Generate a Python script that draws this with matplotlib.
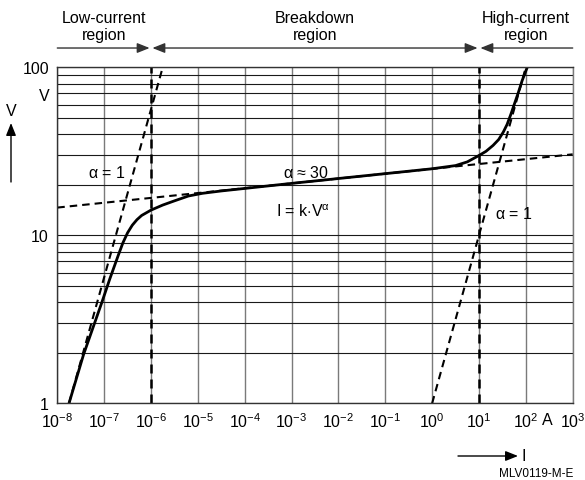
import numpy as np
import matplotlib
matplotlib.use("Agg")
from matplotlib import pyplot as plt
from matplotlib import ticker
from matplotlib.patches import FancyArrowPatch

plt.rcParams['font.family'] = ['Liberation Sans', 'DejaVu Sans']
plt.rcParams['mathtext.fontset'] = 'custom'
plt.rcParams['mathtext.rm'] = 'Liberation Sans'
plt.rcParams['mathtext.it'] = 'Liberation Sans:italic'
plt.rcParams['mathtext.default'] = 'rm'

# V-I characteristic (log10 of current in A, log10 of voltage in V)
curve_logi = [-7.75, -7.44, -7.05, -6.88, -6.70, -6.60, -6.50, -6.40, -6.30, -6.20, -6.00,
              -5.75, -5.50, -5.20, -4.90, -4.50, -4.00, -3.00, -2.00, -1.00, 0.00, 0.50,
              0.75, 1.00, 1.15, 1.30, 1.42, 1.52, 1.60, 1.68, 1.76, 1.84, 1.92, 2.03]
curve_logv = [0.00, 0.29, 0.60, 0.74, 0.88, 0.955, 1.015, 1.06, 1.093, 1.118, 1.150,
              1.18, 1.205, 1.234, 1.250, 1.264, 1.279, 1.309, 1.338, 1.367, 1.396, 1.415,
              1.437, 1.475, 1.50, 1.535, 1.57, 1.615, 1.66, 1.72, 1.785, 1.85, 1.92, 2.00]

# asymptotes
low_i = [10**-7.75, 10**-5.75]      # alpha = 1, leakage
low_v = [1, 100]
mid_i = [1e-8, 1e3]                 # alpha ~ 30
mid_v = [10**1.165, 10**1.482]
high_i = [1, 100]                   # alpha = 1, series resistance
high_v = [1, 100]

# region borders
borders = [1e-6, 1e1]

W, H = 585, 481
fig = plt.figure(figsize=(W / 100, H / 100), dpi=100)
ax = fig.add_axes([57.3 / W, 1 - 404.3 / H, (572.7 - 57.3) / W, (404.3 - 68.3) / H])

ax.set_xscale('log')
ax.set_yscale('log')
ax.set_xlim(1e-8, 1e3)
ax.set_ylim(1, 100)

ax.xaxis.set_major_locator(ticker.LogLocator(base=10, numticks=20))
ax.xaxis.set_minor_locator(ticker.NullLocator())
ax.yaxis.set_major_locator(ticker.LogLocator(base=10, numticks=5))
ax.yaxis.set_minor_locator(ticker.LogLocator(base=10, subs=np.arange(2, 10), numticks=5))
ax.yaxis.set_major_formatter(ticker.FuncFormatter(lambda v, p: f'{v:g}'))
ax.yaxis.set_minor_formatter(ticker.NullFormatter())
ax.tick_params(which='both', length=0, labelsize=11.5)
ax.tick_params(axis='x', pad=6)
ax.tick_params(axis='y', pad=6)

ax.xaxis.grid(True, which='major', color='#7a7a7a', lw=1.0)
ax.yaxis.grid(True, which='both', color='#1a1a1a', lw=0.8)
for s in ax.spines.values():
    s.set_color('#333333')
    s.set_linewidth(1.0)
ax.spines['right'].set_color('#7a7a7a')

dash = (0, (3.6, 2.4))
for b in borders:
    ax.plot([b, b], [1, 100], color='black', lw=1.8, linestyle=dash)
ax.plot(low_i, low_v, color='black', lw=1.5, linestyle=dash)
ax.plot(mid_i, mid_v, color='black', lw=1.5, linestyle=dash)
ax.plot(high_i, high_v, color='black', lw=1.5, linestyle=dash)
ax.plot(10**np.array(curve_logi), 10**np.array(curve_logv), color='black', lw=2.0,
        solid_capstyle='butt', solid_joinstyle='round')

ax.text(10**-6.94, 23.8, r'$\alpha$ = 1', fontsize=11.5, ha='center', va='center')
ax.text(10**-2.69, 23.8, r'$\alpha$ ≈ 30', fontsize=11.5, ha='center', va='center')
ax.text(10**-2.76, 14.1, r'I = k$\cdot$V$^{\alpha}$', fontsize=11.5, ha='center', va='center')
ax.text(10**1.74, 13.6, r'$\alpha$ = 1', fontsize=11.5, ha='center', va='center')

# region arrows above the plot
ytop = 1.0574
trans = ax.get_xaxis_transform()
head = '-|>,head_length=0.75,head_width=0.3'
ax.annotate('', xy=(borders[0], ytop), xytext=(1e-8, ytop), xycoords=trans, textcoords=trans,
            arrowprops=dict(arrowstyle=head, color='#333333', lw=1.0,
                            shrinkA=0, shrinkB=1, mutation_scale=10))
ax.annotate('', xy=(borders[1], ytop), xytext=(borders[0], ytop), xycoords=trans, textcoords=trans,
            arrowprops=dict(arrowstyle='<|-|>,head_length=0.75,head_width=0.3', color='#333333',
                            lw=1.0, shrinkA=1, shrinkB=1, mutation_scale=10))
ax.annotate('', xy=(borders[1], ytop), xytext=(1e3, ytop), xycoords=trans, textcoords=trans,
            arrowprops=dict(arrowstyle=head, color='#333333', lw=1.0,
                            shrinkA=0, shrinkB=1, mutation_scale=10))


def ft(x, y, s, **kw):
    fig.text(x / W, 1 - y / H, s, **kw)


ft(104, 27, 'Low-current\nregion', fontsize=11.5, ha='center', va='center', linespacing=1.15)
ft(315, 27, 'Breakdown\nregion', fontsize=11.5, ha='center', va='center', linespacing=1.15)
ft(526, 27, 'High-current\nregion', fontsize=11.5, ha='center', va='center', linespacing=1.15)

ft(44, 97, 'V', fontsize=11.5, ha='center', va='center')
ft(11, 112, 'V', fontsize=11.5, ha='center', va='center')
fig.patches.append(FancyArrowPatch(
    (11 / W, 1 - 183 / H), (11 / W, 1 - 124 / H), transform=fig.transFigure,
    arrowstyle=head, mutation_scale=10, color='black', lw=1.0, shrinkA=0, shrinkB=0))

ft(547, 421, 'A', fontsize=11.5, ha='center', va='center')
fig.patches.append(FancyArrowPatch(
    (458 / W, 1 - 457 / H), (518 / W, 1 - 457 / H), transform=fig.transFigure,
    arrowstyle=head, mutation_scale=10, color='black', lw=1.0, shrinkA=0, shrinkB=0))
ft(524, 457, 'I', fontsize=11.5, ha='center', va='center')
ft(536, 474, 'MLV0119-M-E', fontsize=8.5, ha='center', va='center')

fig.savefig('out.png', dpi=100)
